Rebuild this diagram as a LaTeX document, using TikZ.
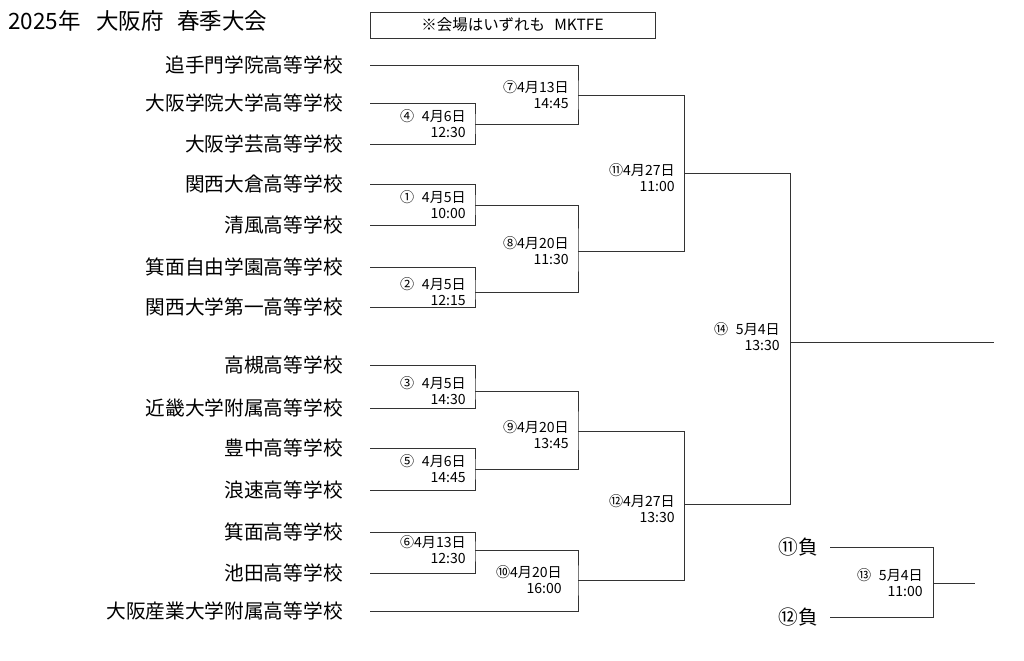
\documentclass[tikz,border=0pt]{standalone}
\usepackage{fontspec}
\setmainfont{Noto Sans CJK JP}
\usepackage{tikz}
\usetikzlibrary{positioning}

\begin{document}
\begin{tikzpicture}[
        x=0.025cm, y=-0.025cm,
        team/.style={font=\fontsize{14pt}{16pt}\selectfont, inner sep=0pt},
        info/.style={font=\fontsize{10pt}{11.5pt}\selectfont, align=right, inner sep=0pt},
        wire/.style={draw=black!80, line width=0.6pt}
    ]
        \useasboundingbox (0,0) rectangle (1024,661);

        % Title and venue
        \node[anchor=west, inner sep=0pt, font=\fontsize{16pt}{18pt}\selectfont] (title) at (8,21) {2025年\hspace{0.7em}大阪府\hspace{0.6em}春季大会};
        \node[wire, minimum width=7.125cm, minimum height=0.65cm, font=\fontsize{11pt}{13pt}\selectfont] (venue) at (512.5,25) {※会場はいずれも\hspace{0.6em}MKTFE};

        % Line starts
        \coordinate (s1) at (370,65);
        \coordinate (s2) at (370,103);
        \coordinate (s3) at (370,144);
        \coordinate (s4) at (370,184);
        \coordinate (s5) at (370,225);
        \coordinate (s6) at (370,267);
        \coordinate (s7) at (370,307);
        \coordinate (s8) at (370,365);
        \coordinate (s9) at (370,408);
        \coordinate (s10) at (370,448);
        \coordinate (s11) at (370,490);
        \coordinate (s12) at (370,532);
        \coordinate (s13) at (370,573);
        \coordinate (s14) at (370,611);

        % Teams
        \node[team, left=0.675cm of s1] (t1) {追手門学院高等学校};
        \node[team, left=0.675cm of s2] (t2) {大阪学院大学高等学校};
        \node[team, left=0.675cm of s3] (t3) {大阪学芸高等学校};
        \node[team, left=0.675cm of s4] (t4) {関西大倉高等学校};
        \node[team, left=0.675cm of s5] (t5) {清風高等学校};
        \node[team, left=0.675cm of s6] (t6) {箕面自由学園高等学校};
        \node[team, left=0.675cm of s7] (t7) {関西大学第一高等学校};
        \node[team, left=0.675cm of s8] (t8) {高槻高等学校};
        \node[team, left=0.675cm of s9] (t9) {近畿大学附属高等学校};
        \node[team, left=0.675cm of s10] (t10) {豊中高等学校};
        \node[team, left=0.675cm of s11] (t11) {浪速高等学校};
        \node[team, left=0.675cm of s12] (t12) {箕面高等学校};
        \node[team, left=0.675cm of s13] (t13) {池田高等学校};
        \node[team, left=0.675cm of s14] (t14) {大阪産業大学附属高等学校};

        % Match points
        \coordinate (m4) at (475,124);
        \coordinate (m7) at (578,95);
        \coordinate (m1) at (475,205);
        \coordinate (m2) at (475,292);
        \coordinate (m8) at (578,251);
        \coordinate (m11) at (684,173);
        \coordinate (m3) at (475,391);
        \coordinate (m5) at (475,469);
        \coordinate (m9) at (578,431);
        \coordinate (m6) at (475,550);
        \coordinate (m10) at (578,580);
        \coordinate (m12) at (684,504);
        \coordinate (m14) at (790,342);
        \coordinate (champ) at (994,342);

        % Upper half
        \draw[wire] (s2) -| (m4) |- (s3);
        \draw[wire] (m4) -| (m7) |- (s1);
        \draw[wire] (s4) -| (m1) |- (s5);
        \draw[wire] (s6) -| (m2) |- (s7);
        \draw[wire] (m1) -| (m8) |- (m2);
        \draw[wire] (m7) -| (m11) |- (m8);

        % Lower half
        \draw[wire] (s8) -| (m3) |- (s9);
        \draw[wire] (s10) -| (m5) |- (s11);
        \draw[wire] (m3) -| (m9) |- (m5);
        \draw[wire] (s12) -| (m6) |- (s13);
        \draw[wire] (m6) -| (m10) |- (s14);
        \draw[wire] (m9) -| (m12) |- (m10);

        % Final
        \draw[wire] (m11) -| (m14) |- (m12);
        \draw[wire] (m14) -- (champ);

        % Third place
        \coordinate (l11) at (830,547);
        \coordinate (l12) at (830,617);
        \coordinate (m13) at (933,583);
        \coordinate (third) at (975,583);
        \node[team, left=0.3cm of l11] (lose11) {⑪負};
        \node[team, left=0.3cm of l12] (lose12) {⑫負};
        \draw[wire] (l11) -| (m13) |- (l12);
        \draw[wire] (m13) -- (third);

        % Dates and times
        \node[info, left=0.225cm of m4] (d4) {④\hphantom{1}4月6日\\12:30};
        \node[info, left=0.225cm of m7] (d7) {⑦4月13日\\14:45};
        \node[info, left=0.225cm of m1] (d1) {①\hphantom{1}4月5日\\10:00};
        \node[info, left=0.225cm of m2] (d2) {②\hphantom{1}4月5日\\12:15};
        \node[info, left=0.225cm of m8] (d8) {⑧4月20日\\11:30};
        \node[info, left=0.225cm of m11, yshift=-0.125cm] (d11) {⑪4月27日\\11:00};
        \node[info, left=0.225cm of m3] (d3) {③\hphantom{1}4月5日\\14:30};
        \node[info, left=0.225cm of m5] (d5) {⑤\hphantom{1}4月6日\\14:45};
        \node[info, left=0.225cm of m9, yshift=-0.1cm] (d9) {⑨4月20日\\13:45};
        \node[info, left=0.225cm of m6] (d6) {⑥4月13日\\12:30};
        \node[info, left=0.4cm of m10] (d10) {⑩4月20日\\16:00};
        \node[info, left=0.225cm of m12, yshift=-0.125cm] (d12) {⑫4月27日\\13:30};
        \node[info, left=0.25cm of m14, yshift=0.125cm] (d14) {⑭\hphantom{1}5月4日\\13:30};
        \node[info, left=0.25cm of m13] (d13) {⑬\hphantom{1}5月4日\\11:00};
    \end{tikzpicture}
\end{document}
